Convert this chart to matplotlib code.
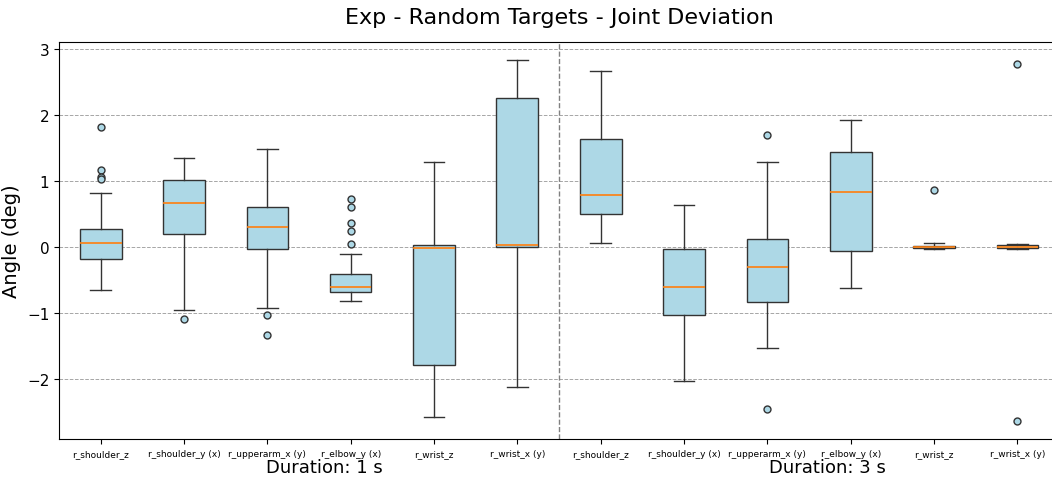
import numpy as np
import matplotlib
matplotlib.use("Agg")
import matplotlib.pyplot as plt

joints = ["r_shoulder_z", "r_shoulder_y (x)", "r_upperarm_x (y)",
          "r_elbow_y (x)", "r_wrist_z", "r_wrist_x (y)"]
labels = joints + joints
durations = ["Duration: 1 s", "Duration: 3 s"]

# box statistics (deg): 1 s joints then 3 s joints
med = [0.06, 0.66, 0.30, -0.61, -0.015, 0.025,
       0.79, -0.61, -0.31, 0.83, 0.0, 0.0]
q1 = [-0.18, 0.19, -0.04, -0.69, -1.79, -0.01,
      0.50, -1.04, -0.84, -0.06, -0.015, -0.02]
q3 = [0.27, 1.01, 0.60, -0.42, 0.025, 2.25,
      1.64, -0.035, 0.115, 1.44, 0.015, 0.02]
whislo = [-0.66, -0.965, -0.925, -0.82, -2.58, -2.13,
          0.06, -2.04, -1.53, -0.63, -0.04, -0.03]
whishi = [0.82, 1.35, 1.48, -0.11, 1.29, 2.83,
          2.67, 0.64, 1.28, 1.92, 0.05, 0.04]
fliers = [[1.82, 1.16, 1.05, 1.03], [-1.09], [-1.03, -1.34],
          [0.72, 0.60, 0.36, 0.24, 0.04], [], [],
          [], [], [1.70, -2.46], [], [0.86], [2.77, -2.64]]

stats = []
for i in range(len(labels)):
    stats.append(dict(med=med[i], q1=q1[i], q3=q3[i], whislo=whislo[i],
                      whishi=whishi[i], fliers=np.array(fliers[i]),
                      label=labels[i]))

fig = plt.figure(figsize=(10.52, 4.81), dpi=100)
ax = fig.add_axes([59 / 1052, 1 - 440 / 481, 1000 / 1052, 397 / 481])

ax.bxp(stats, positions=np.arange(1, 13), widths=0.5, patch_artist=True,
       boxprops=dict(facecolor="lightblue", edgecolor="#333333", linewidth=1),
       medianprops=dict(color="#ff7f0e", linewidth=1.2),
       whiskerprops=dict(color="#333333"),
       capprops=dict(color="#333333"),
       flierprops=dict(marker="o", markerfacecolor="lightblue",
                       markeredgecolor="#333333", markersize=5))

ax.set_xlim(0.5, 12.5)
ax.axvline(6.5, color="gray", linestyle="--", linewidth=1)
ax.yaxis.grid(True, linestyle="--", color="gray", alpha=0.7, linewidth=0.7)
ax.set_axisbelow(True)
ax.tick_params(axis="x", labelsize=6.5)
ax.tick_params(axis="y", labelsize=11)
ax.set_yticks([-2, -1, 0, 1, 2, 3])
ax.set_yticklabels(["\u22122", "\u22121", "0", "1", "2", "3"])
ax.set_ylabel("Angle (deg)", fontsize=14)

fig.text(324 / 1052, 0.008, durations[0], ha="center", va="bottom", fontsize=13)
fig.text(827 / 1052, 0.008, durations[1], ha="center", va="bottom", fontsize=13)
fig.text(559 / 1052, 1 - 18 / 481, "Exp - Random Targets - Joint Deviation",
         ha="center", va="center", fontsize=16)

fig.savefig("out.png", dpi=100)
